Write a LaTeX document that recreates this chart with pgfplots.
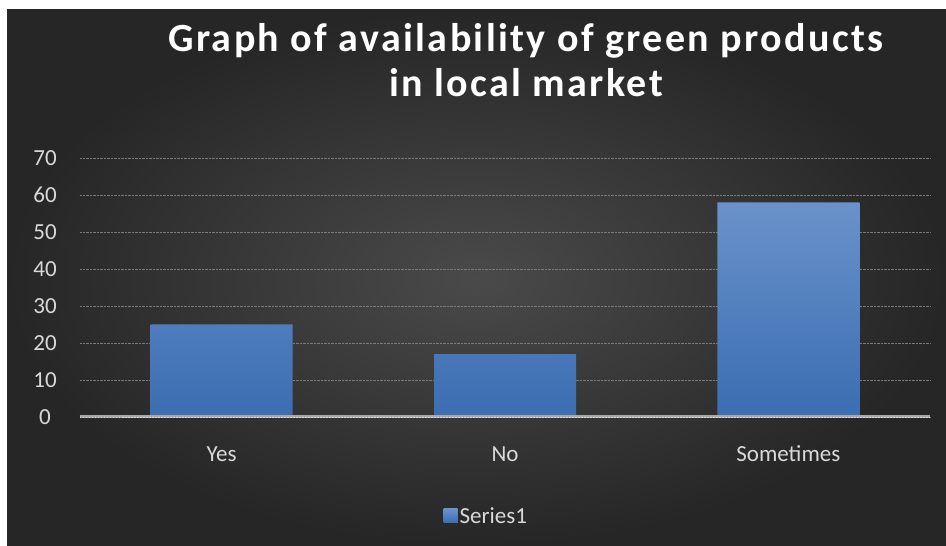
\documentclass[border=0pt]{standalone}
\usepackage{pgfplots}
\pgfplotsset{compat=1.18}
\usepackage{fontspec}
\setmainfont{Carlito}
\newfontfamily\titlefont[LetterSpace=6]{Carlito}
\definecolor{bgc}{HTML}{4A4A4A}
\definecolor{bge}{HTML}{262626}
\definecolor{tickc}{HTML}{D9D9D9}
\definecolor{bartop}{HTML}{6A92CA}
\definecolor{barbot}{HTML}{3A6DB2}
\definecolor{gridc}{HTML}{7A7A7A}
\definecolor{zeroc}{HTML}{A8A8A8}
\begin{document}
\begin{tikzpicture}
\fill[white] (0pt,0pt) rectangle (946pt,546pt);
\shade[inner color=bgc, outer color=bge] (7pt,0pt) rectangle (946pt,536pt);
\begin{axis}[
  at={(80pt,129pt)}, anchor=south west,
  scale only axis, width=850pt, height=259pt,
  xmin=-0.5, xmax=2.5, ymin=0, ymax=70,
  ytick={0,10,...,70},
  xtick=data, xticklabels={Yes,No,Sometimes},
  axis line style={draw=none},
  major tick length=0pt,
  ymajorgrids, grid style={gridc, densely dotted, line width=0.8pt},
  tick label style={text=tickc, font=\fontsize{23}{26}\selectfont},
  /pgf/number format/assume math mode=true,
  yticklabel style={anchor=center, xshift=-35pt},
  xticklabel style={anchor=base, yshift=-45pt},
  clip=false,
  legend style={at={(0.478,-0.382)}, anchor=center, draw=none, fill=none,
    text=tickc, font=\fontsize{23}{26}\selectfont, inner sep=0pt},
  legend image code/.code={\fill[barbot] (0pt,-7pt) rectangle (14pt,7pt);},
]
\addplot[ybar, bar width=142pt, draw=none, top color=bartop, bottom color=barbot]
  coordinates {(0,25) (1,17) (2,58)};
\addlegendentry{Series1}
\draw[zeroc, line width=3pt] (axis cs:-0.5,0) -- (axis cs:2.5,0);
\draw[white!85!black, line width=0.6pt, dash pattern=on 1.5pt off 1.5pt] (axis cs:-0.5,0) -- (axis cs:2.5,0);
\end{axis}
\begin{scope}[font=\titlefont\bfseries\fontsize{40}{45}\selectfont]
\node[text=white, anchor=base] at (526pt,494pt) {Graph of availability of green products};
\node[text=white, anchor=base] at (526pt,449pt) {in local market};
\end{scope}
\pgfresetboundingbox
\useasboundingbox (0pt,0pt) rectangle (946pt,546pt);
\end{tikzpicture}
\end{document}
